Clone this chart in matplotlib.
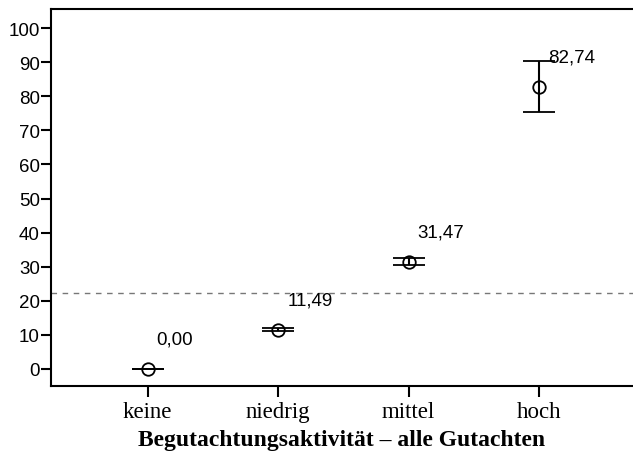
import matplotlib
matplotlib.use("Agg")
import matplotlib.pyplot as plt
import numpy as np

categories = ["keine", "niedrig", "mittel", "hoch"]
means = [0.00, 11.49, 31.47, 82.74]
lower = [0.00, 11.0, 30.5, 75.3]
upper = [0.00, 12.0, 32.5, 90.2]
ref_line = 22.3
yticks = [0, 10, 20, 30, 40, 50, 60, 70, 80, 90, 100]

W, H = 633, 460
fig = plt.figure(figsize=(W / 100, H / 100), dpi=100)
fig.patch.set_facecolor("white")
ax = fig.add_axes([51 / W, (H - 387) / H, 1 - 51 / W, (387 - 10) / H])

x = np.arange(len(categories))
m = np.array(means)
yerr = np.vstack([m - np.array(lower), np.array(upper) - m])
ax.errorbar(x, m, yerr=yerr, fmt="o", mfc="none", mec="black", ms=9, mew=1.3,
            ecolor="black", elinewidth=1.5, capsize=11.5, capthick=1.5, color="black")

ax.axhline(ref_line, color="#777777", lw=1.0, ls=(0, (4, 4)))

for xi, v in zip(x, means):
    ax.text(xi + 0.07, v + 8.8, f"{v:.2f}".replace(".", ","), ha="left", va="center",
            fontsize=13.5, family="Liberation Sans")

ax.set_xlim(-0.74, 3.72)
ax.set_ylim(-5, 105.6)
ax.set_xticks(x)
ax.set_xticklabels(categories, family="Liberation Serif", fontsize=16.5)
ax.set_yticks(yticks)
ax.set_yticklabels([str(t) for t in yticks], family="Liberation Sans", fontsize=13.5)
ax.set_xlabel("Begutachtungsaktivität – alle Gutachten", family="Liberation Serif",
              fontsize=17, fontweight="bold", labelpad=5)

ax.tick_params(axis="y", direction="out", length=7, width=1.5, pad=1)
ax.tick_params(axis="x", direction="out", length=8, width=1.5, pad=3)
for s in ["left", "bottom", "top"]:
    ax.spines[s].set_linewidth(1.5)
ax.spines["right"].set_visible(False)

fig.savefig("out.png", dpi=100, facecolor="white")
